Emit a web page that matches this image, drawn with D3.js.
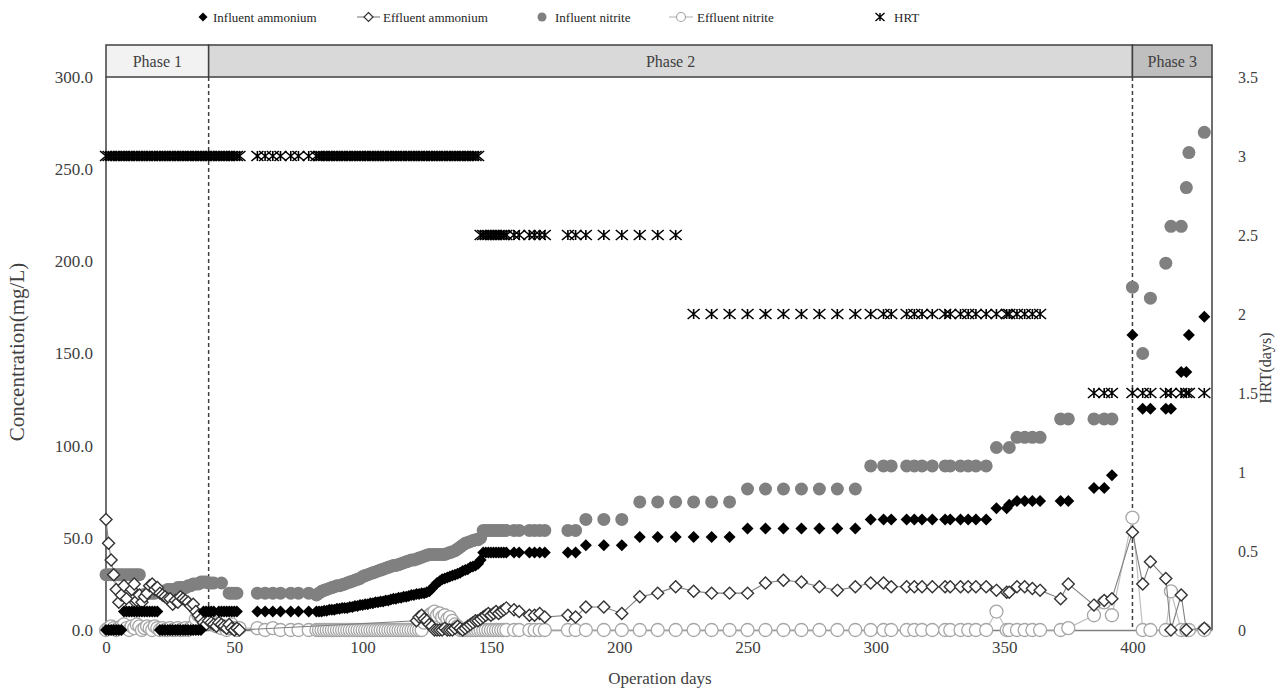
<!DOCTYPE html>
<html>
<head>
<meta charset="utf-8">
<script src="https://cdn.jsdelivr.net/npm/d3@7/dist/d3.min.js"></script>
<style>
  body { margin: 0; background: #fff; }
  text { font-family: "Liberation Serif", "Times New Roman", serif; fill: #404040; }
</style>
</head>
<body>
<div id="chart"></div>
<script>
// sampling days (operation days), grouped by stretch of the run
var sampleDays = [
  0,1,2,3,4,5,6,7,8,9,10,11,12,13,14,15,16,17,18,19,20,21,22,23,24,25,26,27,28,29,30,31,32,33,34,35,36,37,38,39,
  40,41,42,43,44,45,46,47,48,49,50,51,52,
  59,62,65,68,72,75,79,
  82,83,84,85,86,87,88,89,90,91,92,93,94,95,96,97,98,99,100,101,102,103,104,105,106,107,108,109,110,111,
  112,113,114,115,116,117,118,119,120,121,122,123,124,125,126,127,128,129,130,131,132,133,134,135,136,137,138,139,140,141,
  142,143,144,145,
  146,147,148,149,150,151,152,153,154,155,156,
  159,161,165,167,169,171,180,183,
  187,194,201,208,215,222,
  229,236,243,250,257,264,271,278,285,292,
  298,303,306,312,315,318,322,327,329,333,336,339,343,
  347,351,352,355,358,361,364,372,375,
  385,389,392,
  400,404,407,413,415,419,421,422,428
];

// mg/L, left axis
var influentAmmonium = [
  0,0,0,0,0,0,0,10,10,10,10,10,10,10,10,10,10,10,10,10,10,0,0,0,0,0,0,0,0,0,0,0,0,0,0,0,0,0,10,10,
  10,10,10,null,10,10,10,10,10,10,10,10,null,
  10,10,10,10,10,10,10,
  10,10,10,10.5,10.5,11,11,11,11.5,11.5,12,12,12,12.5,12.5,13,13,13.5,13.5,14,14,14.5,14.5,15,15,15.5,15.5,16,16,16.5,
  17,17,17.5,17.5,18,18,18.5,19,19,19.5,19.5,20,20,20.5,21,22.5,24,25.5,26.5,27.5,28,28.5,29,29.5,30,30.5,31,32,32.5,33,
  34,34.5,35,36,
  38,42,42,42,42,42,42,42,42,42,42,
  42,42,42,42,42,42,42,42,
  46,46,46,50.5,50.5,50.5,
  50.5,50.5,50.5,55,55,55,55,55,55,55,
  60,60,60,60,60,60,60,60,60,60,60,60,60,
  66,66,68,70,70,70,70,70,70,
  77,77,84,
  160,120,120,120,120,140,140,160,170
];

var effluentAmmonium = [
  60,47,38,30,22,15,19,24,17,12,22,25,16,19,15,18,20,24,25,22,23,20,19,18,17,17,14,16,15,18,17,16,15,13,14,10,8,6,4,3,
  5,4,3,2,4,3,2,1,3,1,0,1,0,
  null,null,null,null,null,null,null,
  null,null,null,null,null,null,null,null,null,null,null,null,null,null,null,null,null,null,null,null,null,null,null,null,null,null,null,null,null,null,
  null,null,null,null,null,null,null,null,null,5,7,8,6,5,3,2,0,0,0,0,1,0,0,0,1,2,1,0,1,2,
  3,4,5,5,
  6,7,8,9,8,9,10,9,10,11,12,
  11,10,8,8,9,7,8,7,
  12.5,12.5,9,18,20,23.5,
  21,20,20,20,25.5,27,26,23.5,21.5,23.5,
  25.5,25.5,23.5,23.5,23.5,23.5,23.5,23.5,23.5,23.5,23.5,23.5,23.5,
  21.5,20.5,20.5,23.5,23.5,22.5,21.5,17,25,
  13.5,16,17,
  53,25,37,28,0,19,0,null,1
];

var influentNitrite = [
  30,30,30,30,30,30,30,30,30,30,30,30,30,30,19,19,20,20,20,20,21,21,21,21,22,22,22,22,23,23,23,23,24,24,25,25,25,26,26,26,
  25.5,25.5,25.5,null,null,25.5,null,null,20,20,20,20,null,
  20,20,20,20,20,20,20,
  19,20,21,21.5,22,22.5,23,23.5,24,24,24.5,25,25.5,26,26.5,27,27.5,28,29,29.5,30,30.5,31,31.5,32,32.5,33,33.5,34,34.5,
  35,35,35.5,36,36.5,37,37.5,38,38,38.5,39,39.5,40,40.5,41,41,41,41,41,41,41,41.5,42,42.5,43,44,45,46,47,47.5,
  48,48.5,49,49,
  50,54,54,54,54,54,54,54,54,54,54,
  54,54,54,54,54,54,54,54,
  60,60,60,69.5,69.5,69.5,
  69.5,69.5,69.5,76.5,76.5,76.5,76.5,76.5,76.5,76.5,
  89,89,89,89,89,89,89,89,89,89,89,89,89,
  99,null,99,104.5,104.5,104.5,104.5,114.5,114.5,
  114.5,114.5,114.5,
  186,150,180,199,219,219,240,259,270
];

var effluentNitrite = [
  0,1,2,1,0,1,2,3,1,0,2,1,3,2,0,1,2,1,0,2,1,0,1,0,0,1,0,0,1,0,0,1,0,1,2,6,8,7,8,6,
  4,5,3,2,3,1,2,0,1,3,1,0,1,
  1,0,1,0,0,0,0,
  0,0,0,0,0,0,0,0,0,0,0,0,0,0,0,0,0,0,0,0,0,0,0,0,0,0,0,0,0,0,
  0,0,0,0,0,0,0,0,0,0,0,0,4,6,8,9,10,8,9,7,8,6,7,5,3,2,0,0,0,0,
  0,0,0,0,
  0,0,0,0,0,0,0,0,0,0,0,
  0,0,0,0,0,0,0,0,
  0,0,0,0,0,0,
  0,0,0,0,0,0,0,0,0,0,
  0,0,0,0,0,0,0,0,0,0,0,0,0,
  10,0,0,0,0,0,0,0,1,
  8,15,8,
  61,0,0,0,21,0,0,0,0
];

// days, right axis
var hrt = [
  3,3,3,3,3,3,3,3,3,3,3,3,3,3,3,3,3,3,3,3,3,3,3,3,3,3,3,3,3,3,3,3,3,3,3,3,3,3,3,3,
  3,3,3,3,3,3,3,3,3,3,3,3,3,
  3,3,3,3,3,3,3,
  3,3,3,3,3,3,3,3,3,3,3,3,3,3,3,3,3,3,3,3,3,3,3,3,3,3,3,3,3,3,
  3,3,3,3,3,3,3,3,3,3,3,3,3,3,3,3,3,3,3,3,3,3,3,3,3,3,3,3,3,3,
  3,3,3,3,
  2.5,2.5,2.5,2.5,2.5,2.5,2.5,2.5,2.5,2.5,2.5,
  2.5,2.5,2.5,2.5,2.5,2.5,2.5,2.5,
  2.5,2.5,2.5,2.5,2.5,2.5,
  2,2,2,2,2,2,2,2,2,2,
  2,2,2,2,2,2,2,2,2,2,2,2,2,
  2,2,2,2,2,2,2,null,null,
  1.5,1.5,1.5,
  1.5,1.5,1.5,1.5,1.5,1.5,1.5,1.5,1.5
];

var phaseNames = ["Phase 1", "Phase 2", "Phase 3"];
var phaseStart = [0, 40, 400];
var phaseEnd = [40, 400, 431];

var concTicks = [0, 50, 100, 150, 200, 250, 300];
var hrtTicks = [0, 0.5, 1, 1.5, 2, 2.5, 3, 3.5];
var dayTicks = [0, 50, 100, 150, 200, 250, 300, 350, 400];

console.log(sampleDays.length, influentAmmonium.length, effluentAmmonium.length,
  influentNitrite.length, effluentNitrite.length, hrt.length);

//svg container
var svgWidth = 1280;
var svgHeight = 690;
var plot = { left: 106, right: 1212, top: 77, bottom: 630, bandTop: 45 };

var svg = d3.select("#chart")
  .append("svg")
  .attr("width", svgWidth)
  .attr("height", svgHeight);

var chartGroup = svg.append("g");

//scales
var xScale = d3.scaleLinear().domain([0, 431]).range([plot.left, plot.right]);
var yLeft = d3.scaleLinear().domain([0, 300]).range([plot.bottom, plot.top]);
var yRight = d3.scaleLinear().domain([0, 3.5]).range([plot.bottom, plot.top]);

function series(values) {
  return sampleDays.map(function(d, i) { return { day: d, value: values[i] }; })
    .filter(function(p) { return p.value != null; });
}

//phase band
var phaseFill = ["#f2f2f2", "#d9d9d9", "#bfbfbf"];
phaseNames.forEach(function(name, i) {
  chartGroup.append("rect")
    .attr("x", xScale(phaseStart[i]))
    .attr("y", plot.bandTop)
    .attr("width", xScale(phaseEnd[i]) - xScale(phaseStart[i]))
    .attr("height", plot.top - plot.bandTop)
    .attr("fill", phaseFill[i])
    .attr("stroke", "#404040")
    .attr("stroke-width", 1.5);
  chartGroup.append("text")
    .attr("x", (xScale(phaseStart[i]) + xScale(phaseEnd[i])) / 2)
    .attr("y", 67)
    .attr("text-anchor", "middle")
    .style("font-size", "16px")
    .text(name);
});

//frame sides
[plot.left, plot.right].forEach(function(px) {
  chartGroup.append("line")
    .attr("x1", px).attr("x2", px)
    .attr("y1", plot.top).attr("y2", plot.bottom)
    .attr("stroke", "#404040").attr("stroke-width", 1.5);
});

//axes
var leftAxis = d3.axisLeft(yLeft).tickValues(concTicks).tickFormat(d3.format(".1f")).tickSize(0).tickPadding(13);
var rightAxis = d3.axisRight(yRight).tickValues(hrtTicks).tickFormat(function(d) { return String(d); }).tickSize(0).tickPadding(26);
var bottomAxis = d3.axisBottom(xScale).tickValues(dayTicks).tickSize(0).tickPadding(11).tickFormat(d3.format("d"));

var gl = chartGroup.append("g").attr("transform", "translate(" + plot.left + ",0)").call(leftAxis);
gl.select(".domain").remove();
gl.selectAll("text").style("font-size", "17px").style("font-family", null).attr("fill", null);

var gr = chartGroup.append("g").attr("transform", "translate(" + plot.right + ",0)").call(rightAxis);
gr.select(".domain").remove();
gr.selectAll("text").style("font-size", "16px").style("font-family", null).attr("fill", null);

var gb = chartGroup.append("g").attr("transform", "translate(0," + plot.bottom + ")").call(bottomAxis);
gb.select(".domain").attr("stroke", "#808080").attr("stroke-width", 1.3);
gb.selectAll("text").style("font-size", "17px").style("font-family", null).attr("fill", null);

//phase boundaries
[40, 400].forEach(function(day) {
  chartGroup.append("line")
    .attr("x1", xScale(day)).attr("x2", xScale(day))
    .attr("y1", plot.top).attr("y2", plot.bottom)
    .attr("stroke", "#404040").attr("stroke-width", 1.5)
    .attr("stroke-dasharray", "4,3");
});

//marker shapes
function diamond(r) { return "M0," + (-r) + "L" + r + ",0L0," + r + "L" + (-r) + ",0Z"; }
function star(w, h) {
  return "M" + (-w) + "," + (-h) + "L" + w + "," + h + "M" + (-w) + "," + h + "L" + w + "," + (-h) + "M0," + (-h) + "L0," + h;
}

var lineLeft = d3.line().x(function(d) { return xScale(d.day); }).y(function(d) { return yLeft(d.value); });

//influent nitrite
chartGroup.append("g").selectAll("circle")
  .data(series(influentNitrite))
  .enter().append("circle")
  .attr("cx", function(d) { return xScale(d.day); })
  .attr("cy", function(d) { return yLeft(d.value); })
  .attr("r", 6.5)
  .attr("fill", "#808080");

//effluent nitrite
var effNO2 = series(effluentNitrite);
chartGroup.append("path").datum(effNO2)
  .attr("d", lineLeft).attr("fill", "none")
  .attr("stroke", "#bfbfbf").attr("stroke-width", 1.2);
chartGroup.append("g").selectAll("circle")
  .data(effNO2)
  .enter().append("circle")
  .attr("cx", function(d) { return xScale(d.day); })
  .attr("cy", function(d) { return yLeft(d.value); })
  .attr("r", 6.5)
  .attr("fill", "#fff")
  .attr("stroke", "#a6a6a6")
  .attr("stroke-width", 1.3);

//effluent ammonium
var effNH4 = series(effluentAmmonium);
chartGroup.append("path").datum(effNH4)
  .attr("d", lineLeft).attr("fill", "none")
  .attr("stroke", "#7f7f7f").attr("stroke-width", 1.1);
chartGroup.append("g").selectAll("path")
  .data(effNH4)
  .enter().append("path")
  .attr("transform", function(d) { return "translate(" + xScale(d.day) + "," + yLeft(d.value) + ")"; })
  .attr("d", diamond(6))
  .attr("fill", "#fff")
  .attr("stroke", "#333")
  .attr("stroke-width", 1.4);

//influent ammonium
chartGroup.append("g").selectAll("path")
  .data(series(influentAmmonium))
  .enter().append("path")
  .attr("transform", function(d) { return "translate(" + xScale(d.day) + "," + yLeft(d.value) + ")"; })
  .attr("d", diamond(6))
  .attr("fill", "#000");

//HRT
chartGroup.append("g").selectAll("path")
  .data(series(hrt))
  .enter().append("path")
  .attr("transform", function(d) { return "translate(" + xScale(d.day) + "," + yRight(d.value) + ")"; })
  .attr("d", star(6, 5))
  .attr("fill", "none")
  .attr("stroke", "#000")
  .attr("stroke-width", 1.6);

//axis titles
chartGroup.append("text")
  .attr("transform", "translate(24,352) rotate(-90)")
  .attr("text-anchor", "middle")
  .style("font-size", "21px")
  .text("Concentration(mg/L)");

chartGroup.append("text")
  .attr("transform", "translate(1271,368) rotate(-90)")
  .attr("text-anchor", "middle")
  .style("font-size", "16px")
  .text("HRT(days)");

chartGroup.append("text")
  .attr("x", 660).attr("y", 684)
  .attr("text-anchor", "middle")
  .style("font-size", "17px")
  .text("Operation days");

//legend
var legend = svg.append("g").attr("transform", "translate(0,17)");
legend.append("path").attr("transform", "translate(203,0)").attr("d", diamond(4.5)).attr("fill", "#000");
legend.append("text").attr("x", 213).attr("y", 5).style("font-size", "13px").style("fill", "#262626").text("Influent ammonium");

legend.append("line").attr("x1", 357).attr("x2", 380).attr("stroke", "#7f7f7f").attr("stroke-width", 1.1);
legend.append("path").attr("transform", "translate(368.5,0)").attr("d", diamond(4.5))
  .attr("fill", "#fff").attr("stroke", "#333").attr("stroke-width", 1.2);
legend.append("text").attr("x", 383).attr("y", 5).style("font-size", "13px").style("fill", "#262626").text("Effluent ammonium");

legend.append("circle").attr("cx", 542).attr("r", 4.5).attr("fill", "#808080");
legend.append("text").attr("x", 555).attr("y", 5).style("font-size", "13px").style("fill", "#262626").text("Influent nitrite");

legend.append("line").attr("x1", 669).attr("x2", 693).attr("stroke", "#bfbfbf").attr("stroke-width", 1.2);
legend.append("circle").attr("cx", 681).attr("r", 4.5).attr("fill", "#fff").attr("stroke", "#a6a6a6").attr("stroke-width", 1.2);
legend.append("text").attr("x", 697).attr("y", 5).style("font-size", "13px").style("fill", "#262626").text("Effluent nitrite");

legend.append("path").attr("transform", "translate(880,0)").attr("d", star(4.5, 4))
  .attr("fill", "none").attr("stroke", "#000").attr("stroke-width", 1.4);
legend.append("text").attr("x", 894).attr("y", 5).style("font-size", "13px").style("fill", "#262626").text("HRT");
</script>
</body>
</html>
